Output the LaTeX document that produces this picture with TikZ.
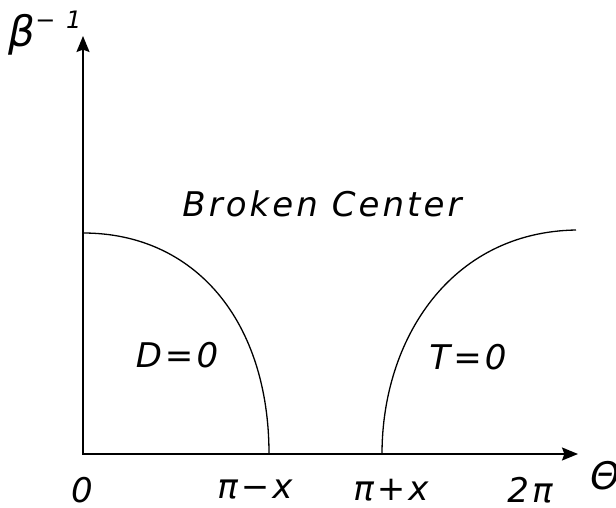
\documentclass[tikz,border=0pt]{standalone}
\usepackage{fontspec}
\setmainfont{DejaVu Sans}
\newfontfamily\plotfont{DejaVu Sans}[LetterSpace=9]
\usetikzlibrary{arrows.meta}

\begin{document}
\begin{tikzpicture}[x=0.5pt, y=-0.5pt,
    axis/.style={line width=0.9pt, {Stealth[length=8pt, width=6.5pt, inset=1.2pt]}-{Stealth[length=8pt, width=6.5pt, inset=1.2pt]}},
    boundary/.style={line width=0.65pt},
    lbl/.style={font=\plotfont\itshape\fontsize{17}{20}\selectfont, inner sep=0pt}]

    \useasboundingbox (0,0) rectangle (616,508);

    % origin and axis ends
    \coordinate (O) at (83,454);
    \coordinate (Ytip) at (83,36);
    \coordinate (Xtip) at (578,454);

    % axes
    \draw[axis] (Ytip) -- (O) -- (Xtip);

    % phase boundaries
    \draw[boundary] (83,233) .. controls (195,233) and (269,321) .. (269,454);
    \draw[boundary] (382,454) .. controls (382,340) and (450,232) .. (576,230);

    % axis labels
    \node[lbl] (beta) at (45,33) {{\fontsize{21}{24}\selectfont β}\raisebox{0.55em}{\fontsize{12}{14}\selectfont −\hspace{0.45em}1}};
    \node[lbl] (theta) at (605,476) {{\fontsize{19}{22}\selectfont Θ}};

    % tick labels
    \node[lbl] (tzero) at (82,490) {0};
    \node[lbl] (tminus) at (255,490) {π−x};
    \node[lbl] (tplus) at (391,490) {π+x};
    \node[lbl] (ttwopi) at (530,490) {2π};

    % region labels
    \node[lbl] (broken) at (322,204) {Broken Center};
    \node[lbl] (dzero) at (177,355) {D=0};
    \node[lbl] (Tzero) at (468,357) {T=0};

\end{tikzpicture}
\end{document}
